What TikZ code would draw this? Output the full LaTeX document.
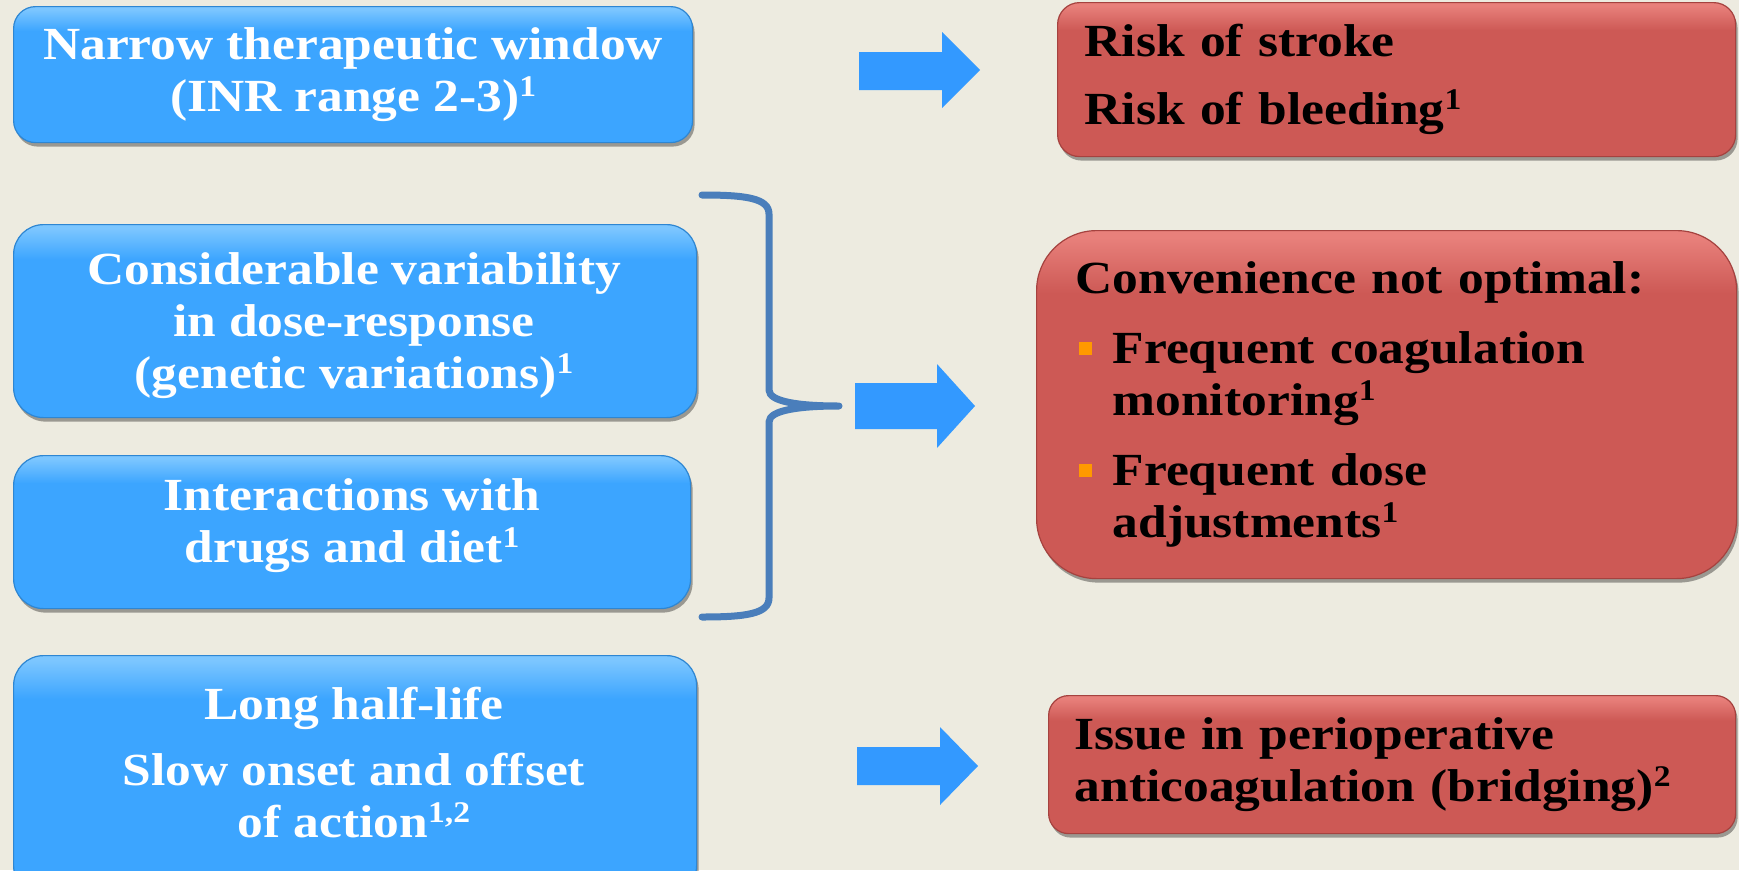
\documentclass[tikz,border=0pt]{standalone}
\usepackage{fontspec}
\setmainfont{Liberation Serif}[FakeStretch=1.12]
\usetikzlibrary{shadows}
\definecolor{bgc}{HTML}{EDEBE0}
\definecolor{blueBase}{HTML}{3CA5FF}
\definecolor{blueTop}{HTML}{7CC6FF}
\definecolor{blueBorder}{HTML}{2E86D2}
\definecolor{redBase}{HTML}{CD5955}
\definecolor{redTop}{HTML}{E8807B}
\definecolor{redBorder}{HTML}{A5423F}
\definecolor{arrowc}{HTML}{3399FF}
\definecolor{bracec}{HTML}{4A7EBB}
\definecolor{bulletc}{HTML}{FF9900}
\pgfdeclareverticalshading{blueshade}{100bp}{color(0bp)=(blueBase); color(25bp)=(blueBase); color(66bp)=(blueBase); color(74bp)=(blueTop); color(100bp)=(blueTop)}
\pgfdeclareverticalshading{redshade}{100bp}{color(0bp)=(redBase); color(25bp)=(redBase); color(66bp)=(redBase); color(74bp)=(redTop); color(100bp)=(redTop)}
\newcommand{\sqbullet}{\makebox[37pt][l]{\hspace{3pt}\raisebox{9pt}{\textcolor{bulletc}{\rule{13pt}{13pt}}}}}
\newcommand{\supnum}[1]{\raisebox{15pt}{\fontsize{30}{30}\selectfont #1}}
\begin{document}
\begin{tikzpicture}[x=1pt,y=-1pt,
  boxbase/.style={anchor=north west, inner sep=0pt, line width=1.2pt,
    drop shadow={shadow xshift=2pt, shadow yshift=-4pt, opacity=0.35, fill=black},
    font=\bfseries\fontsize{46}{52}\selectfont},
  bluebox/.style={boxbase, draw=blueBorder, shading=blueshade, text=white, align=center},
  redbox/.style={boxbase, draw=redBorder, shading=redshade, text=black, align=left},
  boxtext/.style={inner sep=0pt, font=\bfseries\fontsize{46}{52}\selectfont},
  bluetext/.style={boxtext, text=white, align=center},
  blockarrow/.style={fill=arrowc},
  bracestroke/.style={draw=bracec, line width=7pt, line cap=round, line join=round}]
\useasboundingbox (0,0) rectangle (1739,870);
\fill[bgc] (0,0) rectangle (1739,870);

% left (blue) boxes
\node[bluebox, rounded corners=22pt, minimum width=679pt, minimum height=136pt] (n1) at (13,6)
  {Narrow therapeutic window\\(INR range 2-3)\supnum{1}};
\node[bluebox, rounded corners=30pt, minimum width=683pt, minimum height=193pt] (n2) at (13,224) {};
\node[bluetext] (t2) at (354,326)
  {Considerable variability\\in dose-response\\(genetic variations)\supnum{1}};
\node[bluebox, rounded corners=30pt, minimum width=677pt, minimum height=153pt] (n3) at (13,455) {};
\node[bluetext] (t3) at (352,526)
  {Interactions with\\drugs and diet\supnum{1}};
\node[bluebox, rounded corners=30pt, minimum width=683pt, minimum height=240pt] (n4) at (13,655) {};
\node[bluetext] (t4) at (354,763)
  {Long half-life\\[14pt]Slow onset and offset\\of action\supnum{1,2}};

% right (red) boxes
\node[redbox, rounded corners=22pt, minimum width=678pt, minimum height=154pt,
      text width=624pt] (r1) at (1057,2)
  {Risk of stroke\\[16pt]Risk of bleeding\supnum{1}};
\node[redbox, rounded corners=60pt, minimum width=700pt, minimum height=348pt,
      text width=622pt] (r2) at (1036,230)
  {Convenience not optimal:\\[18pt]
   \sqbullet Frequent coagulation\\
   \hspace*{37pt}monitoring\supnum{1}\\[18pt]
   \sqbullet Frequent dose\\
   \hspace*{37pt}adjustments\supnum{1}};
\node[redbox, rounded corners=20pt, minimum width=687pt, minimum height=138pt,
      text width=635pt] (r3) at (1048,695)
  {Issue in perioperative\\anticoagulation (bridging)\supnum{2}};

% block arrows
\fill[blockarrow] (859,52) -- (942,52) -- (942,32) -- (980,70) -- (942,108) -- (942,90) -- (859,90) -- cycle;
\fill[blockarrow] (855,383) -- (937,383) -- (937,364) -- (975,406) -- (937,448) -- (937,429) -- (855,429) -- cycle;
\fill[blockarrow] (857,747) -- (940,747) -- (940,727) -- (978,766) -- (940,805) -- (940,785) -- (857,785) -- cycle;

% brace
\coordinate (bt) at (702,195);
\coordinate (bm) at (839,406);
\coordinate (bb) at (702,617);
\draw[bracestroke] (bt) .. controls (745,195) and (769,198) .. (769,214) -- (769,390)
  .. controls (769,402) and (800,406) .. (bm)
  .. controls (800,406) and (769,410) .. (769,422) -- (769,598)
  .. controls (769,614) and (745,617) .. (bb);
\end{tikzpicture}
\end{document}
